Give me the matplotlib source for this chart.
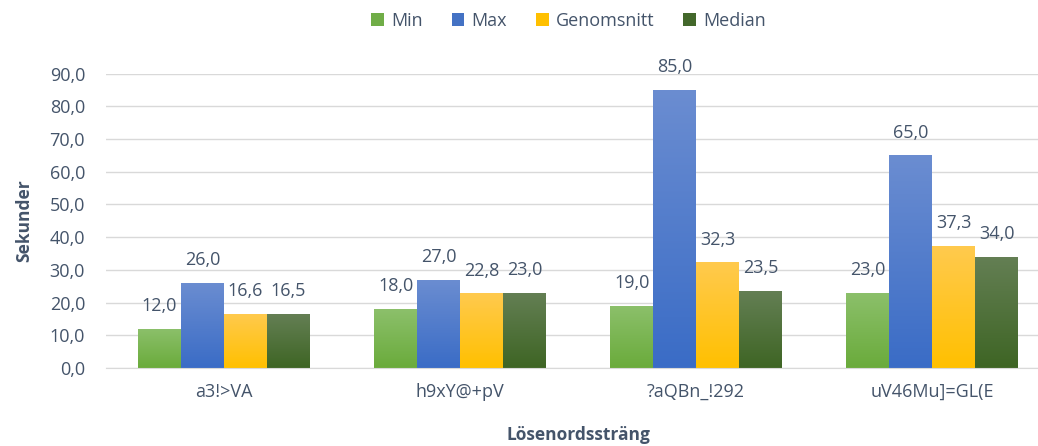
import numpy as np
import matplotlib.pyplot as plt
from matplotlib.colors import LinearSegmentedColormap

# data
kategorier = ["a3!>VA", "h9xY@+pV", "?aQBn_!292", "uV46Mu]=GL(E"]
serier = ["Min", "Max", "Genomsnitt", "Median"]
v_min = [12.0, 18.0, 19.0, 23.0]
v_max = [26.0, 27.0, 85.0, 65.0]
v_medel = [16.6, 22.8, 32.3, 37.3]
v_median = [16.5, 23.0, 23.5, 34.0]
varden = [v_min, v_max, v_medel, v_median]

# (top, bottom) colour of each gradient
farger = [("#8CC06B", "#6AAB3B"),
          ("#6B8DD1", "#3A6CC6"),
          ("#FFCA4E", "#FFC000"),
          ("#647F54", "#3E6524")]
solid = ["#70AD47", "#4472C4", "#FFC000", "#43682B"]
textfarg = "#44546A"

plt.rcParams["font.family"] = ["Open Sans", "DejaVu Sans"]

fig = plt.figure(figsize=(10.38, 4.46), dpi=100)
ax = fig.add_axes([0.102, 0.175, 0.91, 0.66])

x = np.arange(len(kategorier))
bredd = 0.182
grad = np.linspace(1, 0, 256).reshape(-1, 1)

for i, (namn, vals) in enumerate(zip(serier, varden)):
    pos = x + (i - 1.5) * bredd
    bars = ax.bar(pos, vals, bredd, color="none", edgecolor="none", zorder=2)
    cmap = LinearSegmentedColormap.from_list(namn, [farger[i][1], farger[i][0]])
    for b, v in zip(bars, vals):
        x0 = b.get_x()
        im = ax.imshow(grad, cmap=cmap, aspect="auto", zorder=2,
                       extent=[x0, x0 + b.get_width(), 0, v], origin="upper",
                       vmin=0, vmax=1)
        im.set_clip_path(b)
        ax.text(x0 + b.get_width() / 2, v + 4.2, f"{v:.1f}".replace(".", ","),
                ha="center", va="bottom", fontsize=13, color=textfarg)
    # legend proxy
    ax.bar([0], [0], 0, color=solid[i], label=namn)

ax.set_xlim(-0.5, len(kategorier) - 0.5)
ax.set_ylim(0, 90)
ax.set_yticks(np.arange(0, 91, 10))
ax.set_yticklabels([f"{t:.1f}".replace(".", ",") for t in np.arange(0, 91, 10)])
ax.set_xticks(x)
ax.set_xticklabels(kategorier)
ax.tick_params(axis="y", length=0, labelsize=13, colors=textfarg, pad=15)
ax.tick_params(axis="x", length=0, labelsize=13, colors=textfarg, pad=11)
ax.yaxis.grid(True, color="#D9D9D9", linewidth=1, zorder=0)
ax.set_axisbelow(True)
for s in ["top", "right", "left"]:
    ax.spines[s].set_visible(False)
ax.spines["bottom"].set_color("#D9D9D9")

ax.set_ylabel("Sekunder", fontsize=12.5, fontweight="bold", color=textfarg, labelpad=12)
ax.set_xlabel("Lösenordssträng", fontsize=12.5, fontweight="bold", color=textfarg, labelpad=18)

ax.legend(loc="upper center", bbox_to_anchor=(0.49, 1.265), ncol=4, frameon=False,
          fontsize=13, labelcolor=textfarg, handlelength=0.7, handleheight=0.7,
          handletextpad=0.4, columnspacing=1.6)

fig.savefig("out.png", dpi=100)
